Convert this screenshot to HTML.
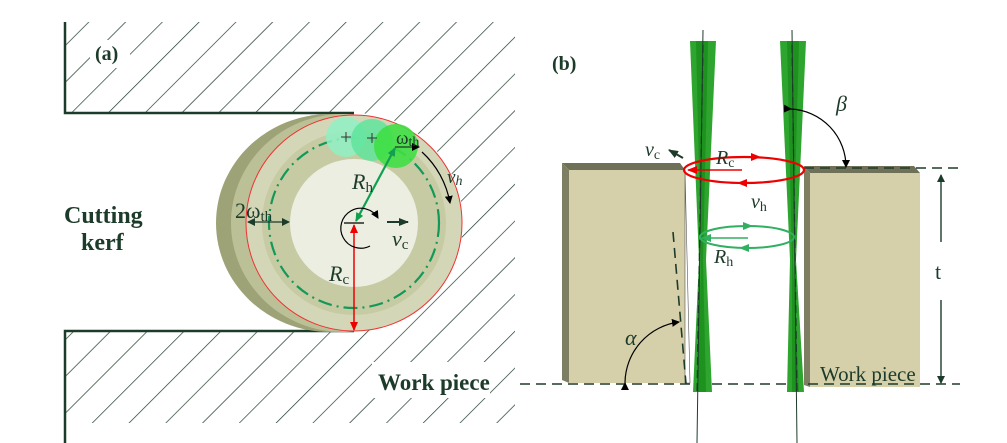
<!DOCTYPE html>
<html><head><style>html,body{margin:0;padding:0;background:#fff}svg{display:block}</style></head><body>
<svg width="1007" height="443" viewBox="0 0 1007 443" xmlns="http://www.w3.org/2000/svg" font-family="Liberation Serif, serif">
<defs>
<pattern id="h" patternUnits="userSpaceOnUse" width="26" height="26" patternTransform="rotate(45)">
<line x1="0" y1="0" x2="0" y2="26" stroke="#1d3b2a" stroke-width="1.4"/>
</pattern>
<clipPath id="hc"><rect x="65" y="22" width="450" height="401"/></clipPath>
<marker id="ak" markerWidth="8" markerHeight="8" refX="7" refY="4" orient="auto" markerUnits="userSpaceOnUse"><path d="M0,0 L8,4 L0,8z" fill="#000"/></marker>
<marker id="ad" markerWidth="10" markerHeight="8" refX="9" refY="4" orient="auto" markerUnits="userSpaceOnUse"><path d="M0,0 L10,4 L0,8z" fill="#1d3b2a"/></marker>
<marker id="ar" markerWidth="9" markerHeight="8" refX="8" refY="4" orient="auto-start-reverse" markerUnits="userSpaceOnUse"><path d="M0,0 L9,4 L0,8z" fill="#e00"/></marker>
<marker id="ag" markerWidth="9" markerHeight="8" refX="8" refY="4" orient="auto-start-reverse" markerUnits="userSpaceOnUse"><path d="M0,0 L9,4 L0,8z" fill="#10a050"/></marker>
<marker id="agr" markerWidth="10" markerHeight="8" refX="9" refY="4" orient="auto" markerUnits="userSpaceOnUse"><path d="M0,0 L10,4 L0,8z" fill="#30b060"/></marker>
<marker id="arr" markerWidth="10" markerHeight="8" refX="9" refY="4" orient="auto" markerUnits="userSpaceOnUse"><path d="M0,0 L10,4 L0,8z" fill="#e00"/></marker>
<marker id="akd" markerWidth="8" markerHeight="8" refX="7" refY="4" orient="auto-start-reverse" markerUnits="userSpaceOnUse"><path d="M0,0 L8,4 L0,8z" fill="#1d3b2a"/></marker>
</defs>
<rect x="65" y="22" width="450" height="401" fill="url(#h)" clip-path="url(#hc)"/>
<path d="M65,113 L354,113 A109,109 0 0 1 354,331 L65,331 Z" fill="#fff"/>
<rect x="90" y="40" width="40" height="28" fill="#fff"/>
<rect x="372" y="362" width="118" height="36" fill="#fff"/>
<path d="M65,22 V113 H354 M65,443 V331 H354" fill="none" stroke="#1d3b2a" stroke-width="2.5"/>
<text x="95" y="60" font-size="20" font-weight="bold" fill="#1d3b2a">(a)</text>
<text x="64" y="223" font-size="24" font-weight="bold" fill="#1d3b2a">Cutting</text>
<text x="81" y="250" font-size="24" font-weight="bold" fill="#1d3b2a">kerf</text>
<text x="378" y="390" font-size="23" font-weight="bold" fill="#1d3b2a">Work piece</text>
<ellipse cx="330" cy="223" rx="114" ry="109" fill="#9ea377"/>
<ellipse cx="343" cy="223" rx="112" ry="109" fill="#bcc097"/>
<circle cx="354" cy="223" r="108" fill="#d4d7b7"/>
<circle cx="354" cy="223" r="92" fill="#c7cba3"/>
<circle cx="354" cy="223" r="64" fill="#eceee1"/>
<circle cx="354" cy="223" r="108" fill="none" stroke="#e33" stroke-width="1"/>
<circle cx="354" cy="223" r="85" fill="none" stroke="#12995a" stroke-width="2.2" stroke-dasharray="14,5,2,5"/>
<circle cx="346" cy="137" r="20" fill="#8ff0c4" opacity="0.85"/>
<circle cx="372" cy="140" r="21" fill="#60e49c" opacity="0.85"/>
<circle cx="396" cy="146" r="22" fill="#3fdf45" opacity="0.9"/>
<path d="M341,137 h10 M346,132 v10 M367,138 h10 M372,133 v10" stroke="#333" stroke-width="1"/>
<line x1="395" y1="147" x2="419" y2="147" stroke="#1d3b2a" stroke-width="1.2" marker-end="url(#ak)"/>
<text x="396" y="144" font-size="19" fill="#1d3b2a">ω<tspan font-size="14" dy="2">th</tspan></text>
<path d="M422,152 A90,90 0 0 1 450,203" fill="none" stroke="#000" stroke-width="1.2" marker-end="url(#ak)"/>
<text x="447" y="183" font-size="19" font-style="italic" fill="#1d3b2a">v<tspan font-size="14" dy="2">h</tspan></text>
<line x1="395" y1="148" x2="356" y2="221" stroke="#10a050" stroke-width="2.2" marker-start="url(#ag)" marker-end="url(#ag)"/>
<text x="352" y="189" font-size="22" font-style="italic" fill="#1d3b2a">R<tspan font-style="normal" font-size="15" dy="3">h</tspan></text>
<line x1="354" y1="225" x2="354" y2="330" stroke="#e00" stroke-width="1.5" marker-start="url(#ar)" marker-end="url(#ar)"/>
<text x="329" y="281" font-size="22" font-style="italic" fill="#1d3b2a">R<tspan font-style="normal" font-size="15" dy="3">c</tspan></text>
<path d="M344,223 h20" stroke="#000" stroke-width="1.2"/>
<path d="M370,246 A20,20 0 1 1 378,218" fill="none" stroke="#000" stroke-width="1.2" marker-end="url(#ak)"/>
<line x1="387" y1="222" x2="408" y2="222" stroke="#1d3b2a" stroke-width="2" marker-end="url(#ad)"/>
<text x="392" y="246" font-size="22" font-style="italic" fill="#1d3b2a">v<tspan font-style="normal" font-size="15" dy="3">c</tspan></text>
<line x1="248" y1="222" x2="289" y2="222" stroke="#1d3b2a" stroke-width="1.2" marker-start="url(#akd)" marker-end="url(#akd)"/>
<text x="235" y="218" font-size="22" fill="#1d3b2a">2ω<tspan font-size="15" dy="3">th</tspan></text>

<text x="552" y="70" font-size="20" font-weight="bold" fill="#1d3b2a">(b)</text>
<polygon points="562,163 680,163 685,170 569,170" fill="#6f7058"/>
<polygon points="562,163 569,170 569,383 562,380" fill="#7e7f62"/>
<rect x="569" y="170" width="116" height="213" fill="#d5d0aa"/>
<polygon points="685,170 690,383 685,383" fill="#fff" stroke="#555" stroke-width="0.6"/>
<polygon points="804,166 914,166 920,173 810,173" fill="#6f7058"/>
<polygon points="804,166 810,173 810,387 804,385" fill="#7e7f62"/>
<rect x="810" y="173" width="110" height="214" fill="#d5d0aa"/>
<text x="820" y="381" font-size="21" fill="#1d3b2a">Work piece</text>
<path d="M520,384 H960 M804,168 H960" stroke="#1d3b2a" stroke-width="1.6" stroke-dasharray="10,6"/>
<path d="M673,232 L686,384" stroke="#1d3b2a" stroke-width="1.6" stroke-dasharray="10,6"/>
<line x1="941" y1="175" x2="941" y2="242" stroke="#1d3b2a" stroke-width="1.4" marker-start="url(#akd)"/>
<line x1="941" y1="300" x2="941" y2="383" stroke="#1d3b2a" stroke-width="1.4" marker-end="url(#akd)"/>
<text x="935" y="279" font-size="22" fill="#1d3b2a">t</text>
<path d="M690,41 L716,41 L706,260 L712,392 L693,392 L699,260 Z" fill="#2ea52e"/>
<path d="M780,41 L806,41 L796,260 L804,392 L787,392 L790,260 Z" fill="#2ea52e"/>
<path d="M696,41 L708,41 L703,260 L706,392 L698,392 L701,260 Z" fill="#178a1a" opacity="0.7"/>
<path d="M787,41 L799,41 L793,260 L799,392 L792,392 L792,260 Z" fill="#178a1a" opacity="0.7"/>
<path d="M703,30 L697,443 M792,30 L797,443" stroke="#1d3b2a" stroke-width="1"/>
<path d="M703,45 L697,392 M792,45 L797,392" stroke="#1d3b2a" stroke-width="1.2" stroke-dasharray="8,5"/>
<ellipse cx="744" cy="170" rx="60" ry="13" fill="none" stroke="#e00" stroke-width="2.2"/>
<line x1="742" y1="170" x2="688" y2="170" stroke="#e00" stroke-width="1.6" marker-end="url(#arr)"/>
<line x1="746" y1="157" x2="760" y2="157" stroke="#e00" stroke-width="1" marker-end="url(#arr)"/>
<line x1="748" y1="183" x2="738" y2="183" stroke="#e00" stroke-width="1" marker-end="url(#arr)"/>
<text x="716" y="164" font-size="20" font-style="italic" fill="#1d3b2a">R<tspan font-style="normal" font-size="14" dy="3">c</tspan></text>
<line x1="683" y1="158" x2="669" y2="150" stroke="#1d3b2a" stroke-width="2" marker-end="url(#ad)"/>
<text x="645" y="156" font-size="20" font-style="italic" fill="#1d3b2a">v<tspan font-style="normal" font-size="14" dy="3">c</tspan></text>
<text x="751" y="208" font-size="20" font-style="italic" fill="#1d3b2a">v<tspan font-style="normal" font-size="14" dy="3">h</tspan></text>
<ellipse cx="747" cy="237" rx="47" ry="11" fill="none" stroke="#30b060" stroke-width="2"/>
<line x1="748" y1="238" x2="702" y2="238" stroke="#30b060" stroke-width="1.6" marker-end="url(#agr)"/>
<line x1="738" y1="226" x2="752" y2="226" stroke="#30b060" stroke-width="1" marker-end="url(#agr)"/>
<line x1="752" y1="248" x2="740" y2="248" stroke="#30b060" stroke-width="1" marker-end="url(#agr)"/>
<text x="714" y="263" font-size="20" font-style="italic" fill="#1d3b2a">R<tspan font-style="normal" font-size="14" dy="3">h</tspan></text>
<path d="M625,383 A62,62 0 0 1 679,322" fill="none" stroke="#000" stroke-width="1.2" marker-start="url(#ak)" marker-end="url(#ak)"/>
<text x="625" y="345" font-size="22" font-style="italic" fill="#1d3b2a">α</text>
<path d="M791,109 A58,58 0 0 1 846,167" fill="none" stroke="#000" stroke-width="1.2" marker-start="url(#ak)" marker-end="url(#ak)"/>
<text x="836" y="111" font-size="22" font-style="italic" fill="#1d3b2a">β</text>
</svg>
</body></html>
